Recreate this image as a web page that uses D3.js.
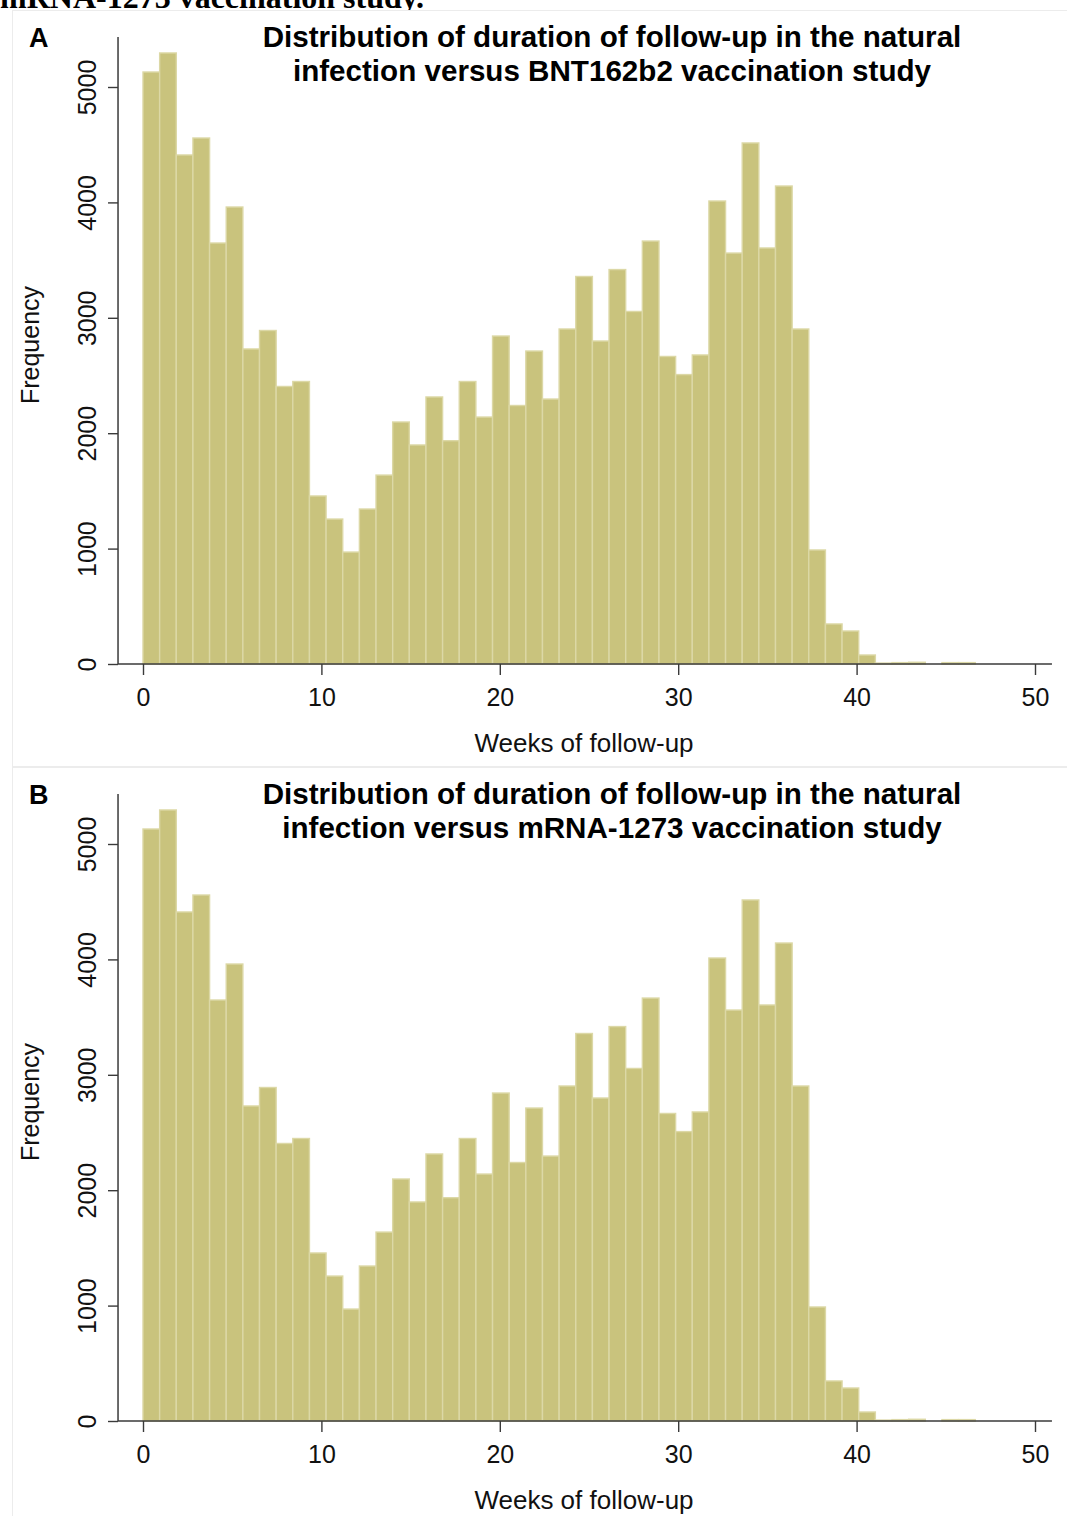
<!DOCTYPE html>
<html>
<head>
<meta charset="utf-8">
<script src="https://cdn.jsdelivr.net/npm/d3@7"></script>
<style>
  html, body { margin: 0; padding: 0; background: #ffffff; }
  svg { display: block; }
</style>
</head>
<body>
<svg id="chart" width="1067" height="1516"></svg>
<script>
// ---- data ----
const weekTicks = [0, 10, 20, 30, 40, 50];
const freqTicks = [0, 1000, 2000, 3000, 4000, 5000];
const binWidth = 0.933; // weeks per bin (50 bins)
const countsBNT = [5130, 5295, 4411, 4558, 3648, 3960, 2730, 2890, 2405, 2448,
                   1456, 1256, 970, 1343, 1637, 2097, 1898, 2314, 1935, 2448,
                   2140, 2842, 2240, 2712, 2296, 2903, 3358, 2799, 3418, 3055,
                   3665, 2665, 2508, 2678, 4012, 3561, 4515, 3605, 4142, 2903,
                   988, 347, 286, 78, 8, 12, 15, 0, 12, 12];
const countsMRNA = [5130, 5295, 4411, 4558, 3648, 3960, 2730, 2890, 2405, 2448,
                    1456, 1256, 970, 1343, 1637, 2097, 1898, 2314, 1935, 2448,
                    2140, 2842, 2240, 2712, 2296, 2903, 3358, 2799, 3418, 3055,
                    3665, 2665, 2508, 2678, 4012, 3561, 4515, 3605, 4142, 2903,
                    988, 347, 286, 78, 8, 12, 15, 0, 12, 12];
const panelLabels = ["A", "B"];
const titlesA = ["Distribution of duration of follow-up in the natural",
                 "infection versus BNT162b2 vaccination study"];
const titlesB = ["Distribution of duration of follow-up in the natural",
                 "infection versus mRNA-1273 vaccination study"];
const xTitle = "Weeks of follow-up";
const yTitle = "Frequency";
const captionTail = "mRNA-1273 vaccination study.";

// ---- drawing ----
const svg = d3.select("#chart");
const sans = "'Liberation Sans', Arial, Helvetica, sans-serif";

// cut-off caption from the surrounding document (cropped in the reference too)
svg.append("text")
  .attr("x", 0).attr("y", 8)
  .attr("font-family", "'Liberation Serif', 'Times New Roman', serif")
  .attr("font-weight", "bold")
  .attr("font-size", 32)
  .attr("fill", "#000")
  .text(captionTail);

function drawPanel(offsetY, label, titles, counts) {
  const g = svg.append("g").attr("transform", `translate(0,${offsetY})`);

  // panel frame
  g.append("rect")
    .attr("x", 12.5).attr("y", 10.5)
    .attr("width", 1062).attr("height", 756)
    .attr("fill", "#ffffff")
    .attr("stroke", "#ececec")
    .attr("stroke-width", 1);

  const x = d3.scaleLinear().domain([0, 50]).range([143, 1035]);
  const y = d3.scaleLinear().domain([0, 5000]).range([664, 87]);

  // bars
  g.append("g").selectAll("rect")
    .data(counts)
    .join("rect")
    .attr("x", (d, i) => x(i * binWidth))
    .attr("width", (d, i) => x((i + 1) * binWidth) - x(i * binWidth))
    .attr("y", d => y(d))
    .attr("height", d => y(0) - y(d))
    .attr("fill", d => d > 0 ? "#c9c37d" : "none")
    .attr("stroke", d => d > 0 ? "#dcd8a6" : "none")
    .attr("stroke-width", 1.4);

  const axisColor = "#3a3a3a";

  // x axis
  const xAxis = g.append("g")
    .attr("transform", `translate(0,${y(0)})`)
    .call(d3.axisBottom(x).tickValues(weekTicks).tickFormat(d3.format("d"))
      .tickSize(11).tickPadding(13));
  xAxis.select(".domain").remove();
  xAxis.selectAll(".tick line").attr("stroke", axisColor).attr("stroke-width", 1.4);
  xAxis.selectAll(".tick text")
    .attr("font-family", sans).attr("font-size", 25).attr("fill", "#111");
  xAxis.append("line")
    .attr("x1", x(-1.4)).attr("x2", x(50.95))
    .attr("y1", 0).attr("y2", 0)
    .attr("stroke", axisColor).attr("stroke-width", 1.5);

  // y axis
  const yAxis = g.append("g")
    .attr("transform", `translate(${x(-1.4)},0)`)
    .call(d3.axisLeft(y).tickValues(freqTicks).tickFormat(d3.format("d")).tickSize(10));
  yAxis.select(".domain").remove();
  yAxis.selectAll(".tick line").attr("stroke", axisColor).attr("stroke-width", 1.4);
  yAxis.selectAll(".tick text")
    .attr("x", null).attr("dy", null)
    .attr("text-anchor", "middle")
    .attr("transform", "translate(-22,0) rotate(-90)")
    .attr("font-family", sans).attr("font-size", 25).attr("fill", "#111");
  yAxis.append("line")
    .attr("x1", 0).attr("x2", 0)
    .attr("y1", y(5433)).attr("y2", y(0))
    .attr("stroke", axisColor).attr("stroke-width", 1.5);

  // axis titles
  g.append("text")
    .attr("x", 584).attr("y", 752)
    .attr("text-anchor", "middle")
    .attr("font-family", sans).attr("font-size", 26).attr("fill", "#111")
    .text(xTitle);
  g.append("text")
    .attr("transform", "translate(39,345) rotate(-90)")
    .attr("text-anchor", "middle")
    .attr("font-family", sans).attr("font-size", 25).attr("fill", "#111")
    .text(yTitle);

  // panel letter
  g.append("text")
    .attr("x", 29).attr("y", 47)
    .attr("font-family", sans).attr("font-weight", "bold")
    .attr("font-size", 27).attr("fill", "#000")
    .text(label);

  // title
  g.append("g").selectAll("text")
    .data(titles)
    .join("text")
    .attr("x", 612)
    .attr("y", (d, i) => 47 + i * 33.5)
    .attr("text-anchor", "middle")
    .attr("font-family", sans).attr("font-weight", "bold")
    .attr("font-size", 29.6).attr("fill", "#000")
    .text(d => d);
}

drawPanel(0, panelLabels[0], titlesA, countsBNT);
drawPanel(757, panelLabels[1], titlesB, countsMRNA);
</script>
</body>
</html>
